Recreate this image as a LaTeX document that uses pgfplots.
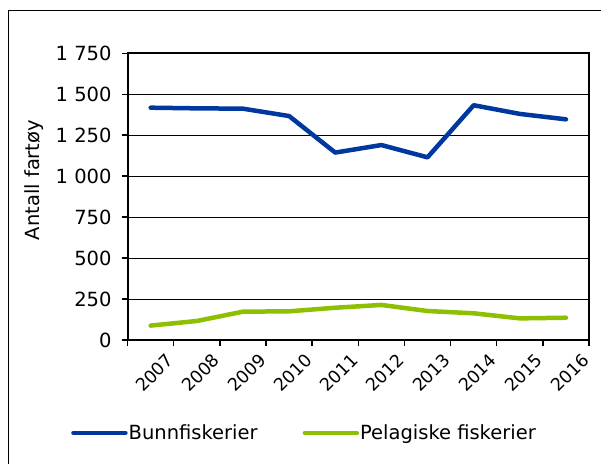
\documentclass[border=0pt]{standalone}
\usepackage{pgfplots}
\pgfplotsset{compat=1.18}
\usepackage{fontspec}
\setmainfont{DejaVu Sans}
\definecolor{bblue}{RGB}{0,56,160}
\definecolor{bgreen}{RGB}{140,192,0}
\newcommand\ff{\fontsize{19.5}{23}\selectfont}
\newcommand\fy{\fontsize{17.5}{21}\selectfont}
\newcommand\yl[1]{\hbox{\fy #1}}
\begin{document}
\begin{tikzpicture}[x=1pt,y=1pt]
\path[use as bounding box] (0,0) rectangle (601,463);
\draw[line width=1.6pt] (8.5,-10) -- (8.5,452.3) -- (620,452.3);
\begin{axis}[
  at={(127.6pt,123pt)}, anchor=south west,
  scale only axis, width=461.4pt, height=286.7pt,
  font=\ff,
  xmin=0.5, xmax=10.5, ymin=0, ymax=1750,
  ytick={0,250,...,1750},
  yticklabel={\hbox{\ff\pgfmathprintnumber{\tick}}},
  yticklabel style={xshift=-6.5pt},
  xtick={0.5,1.5,...,10.5}, xticklabels={},
  extra x ticks={1,2,3,4,5,6,7,8,9,10},
  extra x tick labels={\yl{2007},\yl{2008},\yl{2009},\yl{2010},\yl{2011},\yl{2012},\yl{2013},\yl{2014},\yl{2015},\yl{2016}},
  extra x tick style={major tick length=0pt, grid=none,
     xticklabel style={rotate=45, anchor=north east, inner sep=1pt, yshift=-18pt, xshift=3pt}},
  tick pos=left, tick align=outside, major tick length=6pt,
  tick style={black, line width=1.5pt},
  axis line style={line width=2pt},
  ymajorgrids, major grid style={black, line width=1pt},
  ylabel={\ff Antall fartøy},
  ylabel style={at={(axis description cs:-0.2018,0.558)}, anchor=center},
  legend style={draw=none, fill=none, at={(axis description cs:-0.1227,-0.324)},
     anchor=west, legend columns=2, inner sep=0pt, font=\ff,
     /tikz/every even column/.append style={column sep=44pt},
     nodes={inner sep=1pt}},
  legend image code/.code={\draw[#1,line cap=round] (0pt,0pt) -- (52pt,0pt);},
  /pgf/number format/1000 sep={\ },
  /pgf/number format/assume math mode=true,
]
\addplot[bblue, line width=4.5pt, line join=round, line cap=round] coordinates {
(1,1418) (2,1414) (3,1412) (4,1367) (5,1144) (6,1190) (7,1115) (8,1433) (9,1380) (10,1347)};
\addlegendentry{Bunnfiskerier}
\addplot[bgreen, line width=4.5pt, line join=round, line cap=round] coordinates {
(1,88) (2,116) (3,173) (4,175) (5,197) (6,214) (7,177) (8,163) (9,132) (10,136)};
\addlegendentry{Pelagiske fiskerier}
\end{axis}
\end{tikzpicture}
\end{document}
